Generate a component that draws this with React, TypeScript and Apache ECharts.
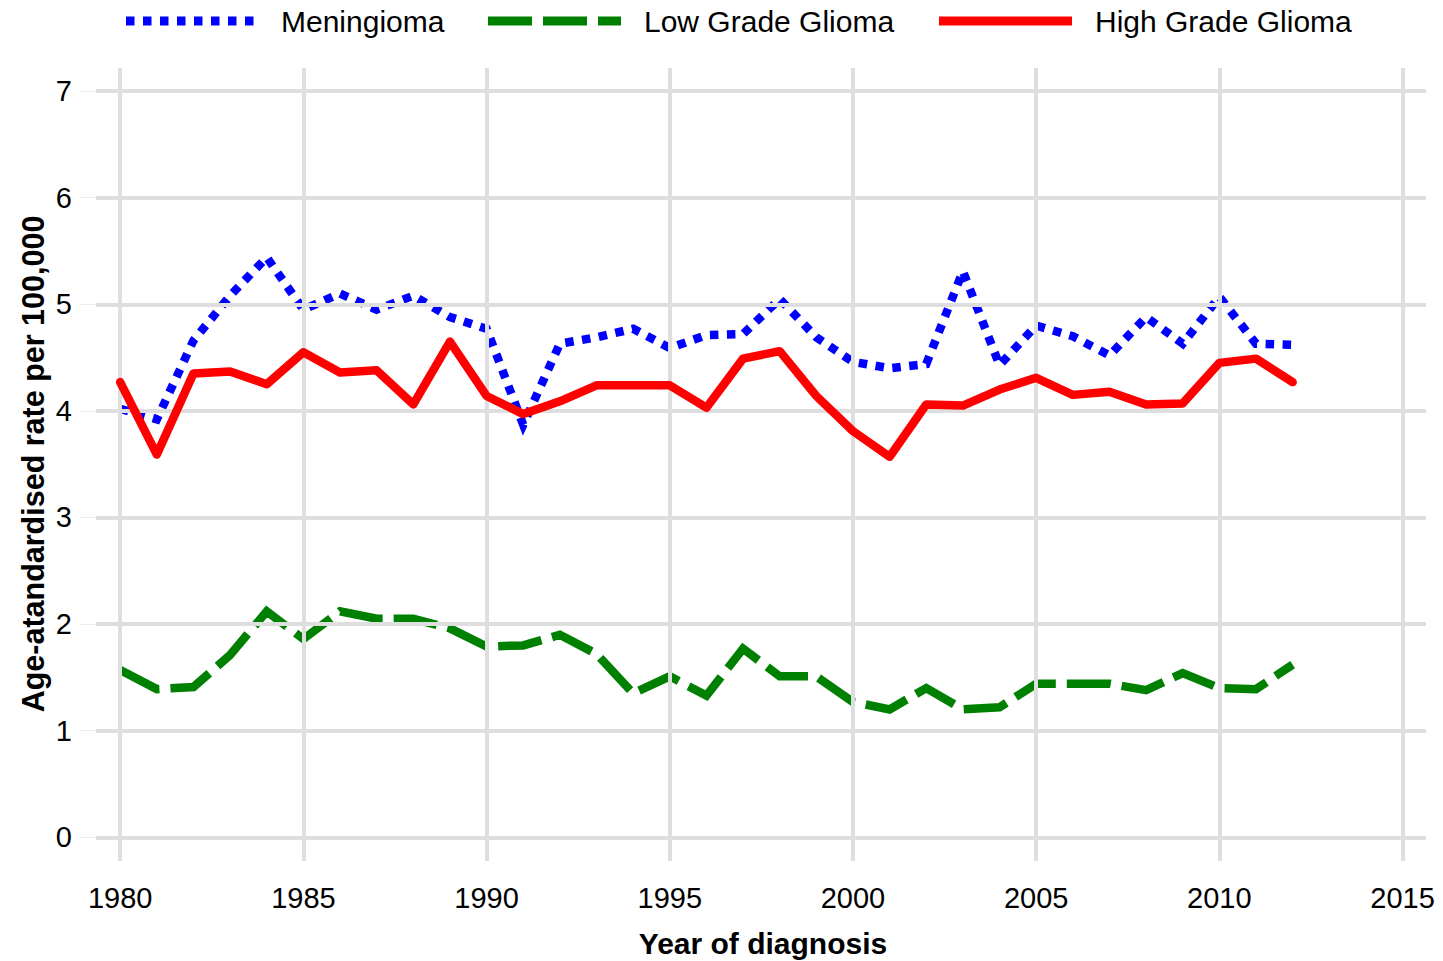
import React, { useEffect, useRef } from "react";
import * as echarts from "echarts";

const years = [1980,1981,1982,1983,1984,1985,1986,1987,1988,1989,1990,1991,1992,1993,1994,1995,1996,1997,1998,1999,2000,2001,2002,2003,2004,2005,2006,2007,2008,2009,2010,2011,2012];
const meningioma = [4.02,3.92,4.66,5.08,5.44,4.95,5.10,4.95,5.08,4.88,4.77,3.87,4.63,4.69,4.77,4.59,4.71,4.72,5.05,4.69,4.46,4.40,4.44,5.31,4.43,4.80,4.70,4.52,4.88,4.63,5.07,4.63,4.62];
const lowGrade = [1.57,1.39,1.41,1.71,2.12,1.86,2.12,2.05,2.05,1.96,1.79,1.80,1.90,1.72,1.35,1.51,1.33,1.77,1.51,1.51,1.27,1.20,1.40,1.20,1.22,1.44,1.44,1.44,1.38,1.54,1.40,1.39,1.62];
const highGrade = [4.27,3.59,4.35,4.37,4.25,4.55,4.36,4.38,4.06,4.65,4.14,3.97,4.09,4.24,4.24,4.24,4.03,4.49,4.56,4.14,3.81,3.57,4.06,4.05,4.20,4.31,4.15,4.18,4.06,4.07,4.45,4.49,4.27];
const xTicks = [1980,1985,1990,1995,2000,2005,2010,2015];
const yTicks = [0,1,2,3,4,5,6,7];
const seriesNames = ["Meningioma", "Low Grade Glioma", "High Grade Glioma"];

const FONT = "'Liberation Sans', Arial, sans-serif";

export default function App() {
  const ref = useRef<HTMLDivElement>(null);
  useEffect(() => {
    const chart = echarts.init(ref.current!, null, { renderer: "svg" });
    const pair = (vals: number[]) => years.map((y, i) => [y, vals[i]]);
    const grid = "#dedede";
    const colors = ["#0000ff", "#008000", "#ff0000"];
    const dashes: any[] = [[8.5, 8.5], [44, 11], null];
    const caps = ["butt", "butt", "round"];
    const lineW = 8.5;
    const legendIconX = [126, 488, 939];
    const legendTextX = [281, 644, 1095];
    const legendY = 21;
    const legendGraphics: any[] = [];
    seriesNames.forEach((name, i) => {
      legendGraphics.push({
        type: "line",
        shape: { x1: legendIconX[i], y1: legendY, x2: legendIconX[i] + 133, y2: legendY },
        style: {
          stroke: colors[i],
          lineWidth: 9,
          lineDash: dashes[i] || undefined,
          lineCap: "butt",
        },
      });
      legendGraphics.push({
        type: "text",
        x: legendTextX[i],
        y: legendY,
        style: { text: name, font: `30px ${FONT}`, fill: "#000", align: "left", verticalAlign: "middle" },
      });
    });
    chart.setOption({
      animation: false,
      backgroundColor: "#ffffff",
      grid: { left: 96, right: 17, top: 68, bottom: 100, containLabel: false },
      xAxis: {
        type: "value",
        min: 1979.34,
        max: 2015.64,
        axisLine: { show: false },
        axisTick: { show: false, customValues: xTicks },
        splitLine: { show: false },
        axisLabel: {
          customValues: xTicks,
          formatter: (v: number) => String(v),
          fontFamily: FONT,
          fontSize: 29,
          color: "#000",
          margin: 22,
        },
      },
      yAxis: {
        type: "value",
        min: -0.222,
        max: 7.216,
        axisLine: { show: false },
        axisTick: { show: true, customValues: yTicks, length: 15, lineStyle: { color: "#ececec", width: 1 } },
        splitLine: { show: false },
        axisLabel: {
          customValues: yTicks,
          formatter: (v: number) => String(v),
          fontFamily: FONT,
          fontSize: 29,
          color: "#000",
          margin: 24,
        },
      },
      graphic: [
        ...legendGraphics,
        {
          type: "text",
          x: 763,
          y: 943,
          style: { text: "Year of diagnosis", font: `bold 30px ${FONT}`, fill: "#000", align: "center", verticalAlign: "middle" },
        },
        {
          type: "text",
          x: 33,
          y: 464,
          rotation: Math.PI / 2,
          style: { text: "Age-atandardised rate per 100,000", font: `bold 30.5px ${FONT}`, fill: "#000", align: "center", verticalAlign: "middle" },
        },
      ],
      series: [
        {
          name: "grid",
          type: "line",
          data: [],
          z: 1,
          silent: true,
          markLine: {
            silent: true,
            symbol: "none",
            label: { show: false },
            lineStyle: { color: grid, width: 4, type: "solid" },
            data: [
              ...xTicks.map((v) => ({ xAxis: v })),
              ...yTicks.map((v) => ({ yAxis: v })),
            ],
          },
        },
        ...seriesNames.map((name, i) => ({
          name,
          type: "line",
          data: pair([meningioma, lowGrade, highGrade][i]),
          showSymbol: false,
          symbol: "none",
          z: 3 + i,
          color: colors[i],
          lineStyle: {
            color: colors[i],
            width: lineW,
            type: dashes[i] || "solid",
            cap: caps[i],
            join: i === 2 ? "round" : "miter",
          },
        })),
      ],
    });
    return () => chart.dispose();
  }, []);
  return <div ref={ref} style={{ position: "fixed", left: 0, top: 0, width: 1443, height: 961 }} />;
}
